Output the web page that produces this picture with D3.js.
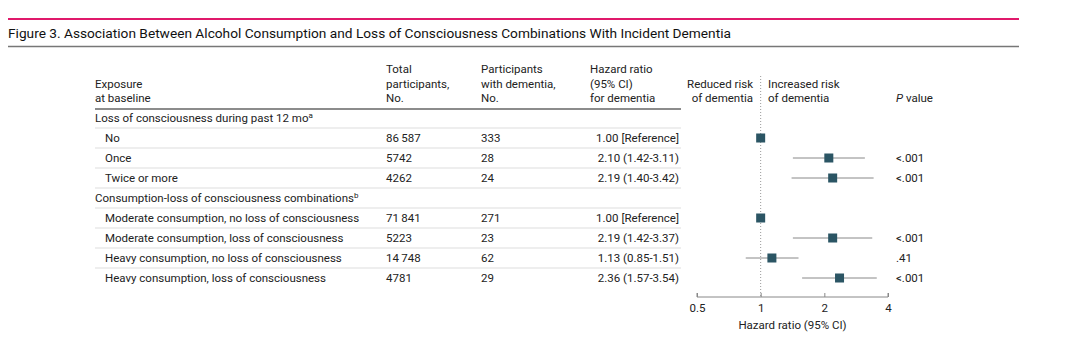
<!DOCTYPE html>
<html>
<head>
<meta charset="utf-8">
<script src="https://cdn.jsdelivr.net/npm/d3@7"></script>
<style>
  body { margin: 0; background: #fff; }
  svg text { font-family: Roboto, "Open Sans", sans-serif; fill: #222; }
</style>
</head>
<body>
<svg id="chart" width="1080" height="343"></svg>
<script>
// rows of the table (group headers have no values)
var rowLabels = ["Loss of consciousness during past 12 mo", "No", "Once", "Twice or more",
                 "Consumption-loss of consciousness combinations",
                 "Moderate consumption, no loss of consciousness", "Moderate consumption, loss of consciousness",
                 "Heavy consumption, no loss of consciousness", "Heavy consumption, loss of consciousness"];
var rowNotes = ["a", null, null, null, "b", null, null, null, null];
var isGroup = [true, false, false, false, true, false, false, false, false];
var totals = [null, "86\u2009587", "5742", "4262", null, "71\u2009841", "5223", "14\u2009748", "4781"];
var withDementia = [null, "333", "28", "24", null, "271", "23", "62", "29"];
var hrValues = [null, 1.00, 2.10, 2.19, null, 1.00, 2.19, 1.13, 2.36];
var ciLow = [null, null, 1.42, 1.40, null, null, 1.42, 0.85, 1.57];
var ciHigh = [null, null, 3.11, 3.42, null, null, 3.37, 1.51, 3.54];
var hrText = [null, "1.00 [Reference]", "2.10 (1.42-3.11)", "2.19 (1.40-3.42)", null,
              "1.00 [Reference]", "2.19 (1.42-3.37)", "1.13 (0.85-1.51)", "2.36 (1.57-3.54)"];
var pValues = [null, "", "<.001", "<.001", null, "", "<.001", ".41", "<.001"];
var xTicks = [0.5, 1, 2, 4];

const svg = d3.select("#chart");
const fs = 11.5;

// title block
svg.append("line").attr("x1", 8).attr("x2", 1019).attr("y1", 19).attr("y2", 19)
   .attr("stroke", "#e0196b").attr("stroke-width", 2.2);
svg.append("text").attr("x", 8).attr("y", 38).style("font-size", "13.7px").style("fill", "#111")
   .text("Figure 3. Association Between Alcohol Consumption and Loss of Consciousness Combinations With Incident Dementia");
svg.append("line").attr("x1", 8).attr("x2", 1019).attr("y1", 46.5).attr("y2", 46.5)
   .attr("stroke", "#777").attr("stroke-width", 1.3);

// row positions
var y = d3.scalePoint().domain(d3.range(rowLabels.length)).range([118, 278]);

// columns
const col = { label: 95, sub: 105, total: 386, dem: 481, hr: 590, hrEnd: 679, p: 896 };

function header(x, lines, anchor, yEnd) {
    let t = svg.append("text").attr("x", x).attr("text-anchor", anchor || "start")
              .style("font-size", fs + "px");
    lines.forEach((l, i) => {
        t.append("tspan").attr("x", x).attr("y", yEnd - (lines.length - 1 - i) * 14.5).text(l);
    });
    return t;
}
header(col.label, ["Exposure", "at baseline"], "start", 102);
header(col.total, ["Total", "participants,", "No."], "start", 102);
header(col.dem, ["Participants", "with dementia,", "No."], "start", 102);
header(col.hr, ["Hazard ratio", "(95% CI)", "for dementia"], "start", 102);
header(753, ["Reduced risk", "of dementia"], "end", 102);
header(768, ["Increased risk", "of dementia"], "start", 102);
let pv = svg.append("text").attr("x", col.p).attr("y", 102).style("font-size", fs + "px");
pv.append("tspan").style("font-style", "italic").text("P");
pv.append("tspan").text(" value");

svg.append("line").attr("x1", 95).attr("x2", 681).attr("y1", 109).attr("y2", 109)
   .attr("stroke", "#666").attr("stroke-width", 1.3);

// row separators
const step = y.step();
d3.range(rowLabels.length - 1).forEach(i => {
    svg.append("line").attr("x1", 95).attr("x2", 681)
       .attr("y1", y(i) + step / 2).attr("y2", y(i) + step / 2)
       .attr("stroke", "#ddd").attr("stroke-width", 1);
});

// table text
const rows = svg.append("g").selectAll("g").data(rowLabels).join("g")
    .attr("transform", (d, i) => "translate(0," + (y(i) + 4) + ")");

rows.append("text")
    .attr("x", (d, i) => isGroup[i] ? col.label : col.sub)
    .style("font-size", fs + "px")
    .each(function(d, i) {
        let t = d3.select(this);
        t.append("tspan").text(d);
        if (rowNotes[i]) t.append("tspan").attr("dy", -4).style("font-size", "8px").text(rowNotes[i]);
    });
rows.append("text").attr("x", col.total).style("font-size", fs + "px").text((d, i) => totals[i] || "");
rows.append("text").attr("x", col.dem).style("font-size", fs + "px").text((d, i) => withDementia[i] || "");
rows.append("text").attr("x", col.hrEnd).attr("text-anchor", "end").style("font-size", fs + "px")
    .text((d, i) => hrText[i] || "");
rows.append("text").attr("x", col.p).style("font-size", fs + "px").text((d, i) => pValues[i] || "");

// forest plot
var x = d3.scaleLog().base(2).domain([0.5, 4]).range([697, 888]);

svg.append("line").attr("x1", x(1)).attr("x2", x(1)).attr("y1", 76).attr("y2", 297)
   .attr("stroke", "#999").attr("stroke-width", 1).attr("stroke-dasharray", "1,2");

const axis = d3.axisBottom(x).tickValues(xTicks).tickSize(-4).tickPadding(7)
    .tickFormat(d => d3.format("")(d));
const ax = svg.append("g").attr("transform", "translate(0,297)").call(axis);
ax.select(".domain").attr("stroke", "#888").attr("d", "M" + x(0.5) + ",-4V0H" + x(4) + "V-4");
ax.selectAll(".tick line").attr("stroke", "#888");
ax.selectAll(".tick text").style("font-size", fs + "px").style("fill", "#222")
   .style("font-family", "Roboto, sans-serif");
svg.append("text").attr("x", x(Math.SQRT2)).attr("y", 329).attr("text-anchor", "middle")
   .style("font-size", fs + "px").text("Hazard ratio (95% CI)");

const idx = d3.range(rowLabels.length).filter(i => hrValues[i] != null);
svg.append("g").selectAll("line").data(idx.filter(i => ciLow[i] != null)).join("line")
    .attr("x1", i => x(ciLow[i])).attr("x2", i => x(ciHigh[i]))
    .attr("y1", i => y(i)).attr("y2", i => y(i))
    .attr("stroke", "#888").attr("stroke-width", 1);
svg.append("g").selectAll("rect").data(idx).join("rect")
    .attr("x", i => x(hrValues[i]) - 4.5).attr("y", i => y(i) - 4.5)
    .attr("width", 9).attr("height", 9).attr("fill", "#2b5564");
</script>
</body>
</html>
